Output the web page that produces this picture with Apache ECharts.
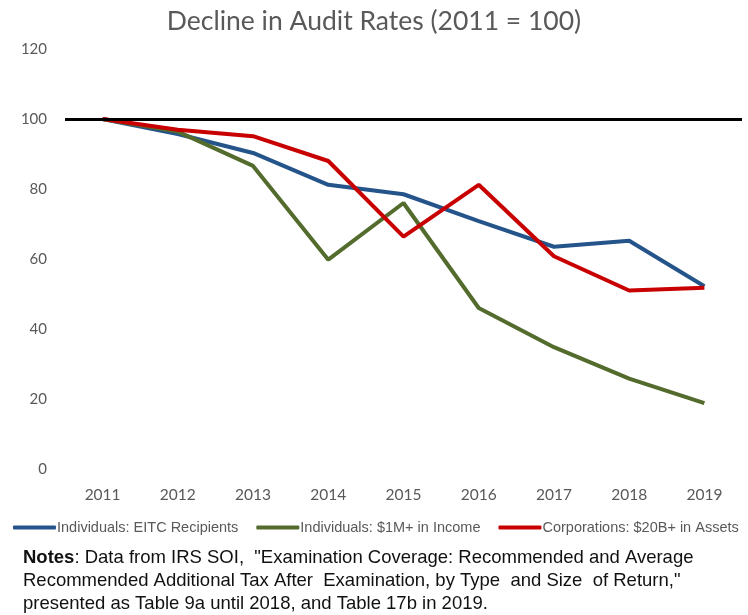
<!DOCTYPE html>
<html>
<head>
<meta charset="utf-8">
<script src="https://cdn.jsdelivr.net/npm/echarts@6/dist/echarts.min.js"></script>
<style>
  html, body { margin: 0; padding: 0; background: #ffffff; }
  #chart { width: 748px; height: 615px; }
</style>
</head>
<body>
<div id="chart"></div>
<script>
// 年份与三条序列（2011 = 100）
const years = ['2011', '2012', '2013', '2014', '2015', '2016', '2017', '2018', '2019'];
const eitc = [100, 95.7, 90.3, 81.2, 78.5, 70.8, 63.5, 65.2, 52.2];
const millionaires = [100, 96.4, 86.6, 59.8, 76.0, 46.0, 34.8, 25.8, 18.8];
const corporations = [100, 96.9, 95.1, 88.0, 66.4, 81.2, 60.8, 51.0, 51.8];
const seriesNames = [
    'Individuals: EITC Recipients',
    'Individuals: $1M+ in Income',
    'Corporations: $20B+ in Assets'
];
const baseline = 100;

const chart = echarts.init(document.getElementById('chart'));

const option = {
    backgroundColor: '#ffffff',
    animation: false,
    title: {
        text: 'Decline in Audit Rates (2011 = 100)',
        left: 'center',
        top: 3,
        textStyle: {
            fontFamily: 'Lato',
            fontSize: 26.5,
            fontWeight: 'normal',
            color: '#595959'
        }
    },
    legend: {
        left: 8,
        top: 515,
        itemWidth: 43,
        itemHeight: 4,
        itemGap: 18,
        icon: 'roundRect',
        textStyle: {
            fontFamily: 'Liberation Sans Narrow, Liberation Sans, sans-serif',
            fontSize: 14.5,
            color: '#595959',
            padding: [0, 0, 0, -4]
        },
        data: seriesNames
    },
    grid: {
        left: 65,
        right: 6,
        top: 49,
        bottom: 146
    },
    xAxis: {
        type: 'category',
        data: years,
        boundaryGap: true,
        axisLine: { show: false },
        axisTick: { show: false },
        axisLabel: {
            margin: 18,
            fontFamily: 'Lato',
            fontSize: 15.5,
            color: '#595959'
        }
    },
    yAxis: {
        type: 'value',
        min: 0,
        max: 120,
        interval: 20,
        axisLine: { show: false },
        axisTick: { show: false },
        splitLine: { show: false },
        axisLabel: {
            margin: 18,
            fontFamily: 'Lato',
            fontSize: 15,
            color: '#595959'
        }
    },
    series: [
        {
            name: seriesNames[0],
            type: 'line',
            data: eitc,
            symbol: 'none',
            lineStyle: { color: '#24548A', width: 4 },
            itemStyle: { color: '#24548A' },
            markLine: {
                silent: true,
                symbol: 'none',
                label: { show: false },
                lineStyle: { color: '#000000', width: 3, type: 'solid' },
                data: [{ yAxis: baseline }]
            }
        },
        {
            name: seriesNames[1],
            type: 'line',
            data: millionaires,
            symbol: 'none',
            lineStyle: { color: '#536B2C', width: 4 },
            itemStyle: { color: '#536B2C' }
        },
        {
            name: seriesNames[2],
            type: 'line',
            data: corporations,
            symbol: 'none',
            lineStyle: { color: '#C80000', width: 4 },
            itemStyle: { color: '#C80000' }
        }
    ],
    graphic: [
        {
            type: 'text',
            left: 23,
            top: 546,
            style: {
                text: '{b|Notes}: Data from IRS SOI,  "Examination Coverage: Recommended and Average\nRecommended Additional Tax After  Examination, by Type  and Size  of Return,"\npresented as Table 9a until 2018, and Table 17b in 2019.',
                fontFamily: 'Liberation Sans Narrow, Liberation Sans, sans-serif',
                fontSize: 18.5,
                lineHeight: 23,
                fill: '#111111',
                rich: {
                    b: {
                        fontFamily: 'Liberation Sans Narrow, Liberation Sans, sans-serif',
                        fontSize: 18.5,
                        fontWeight: 'bold',
                        fill: '#111111'
                    }
                }
            }
        }
    ]
};

chart.setOption(option);
</script>
</body>
</html>
